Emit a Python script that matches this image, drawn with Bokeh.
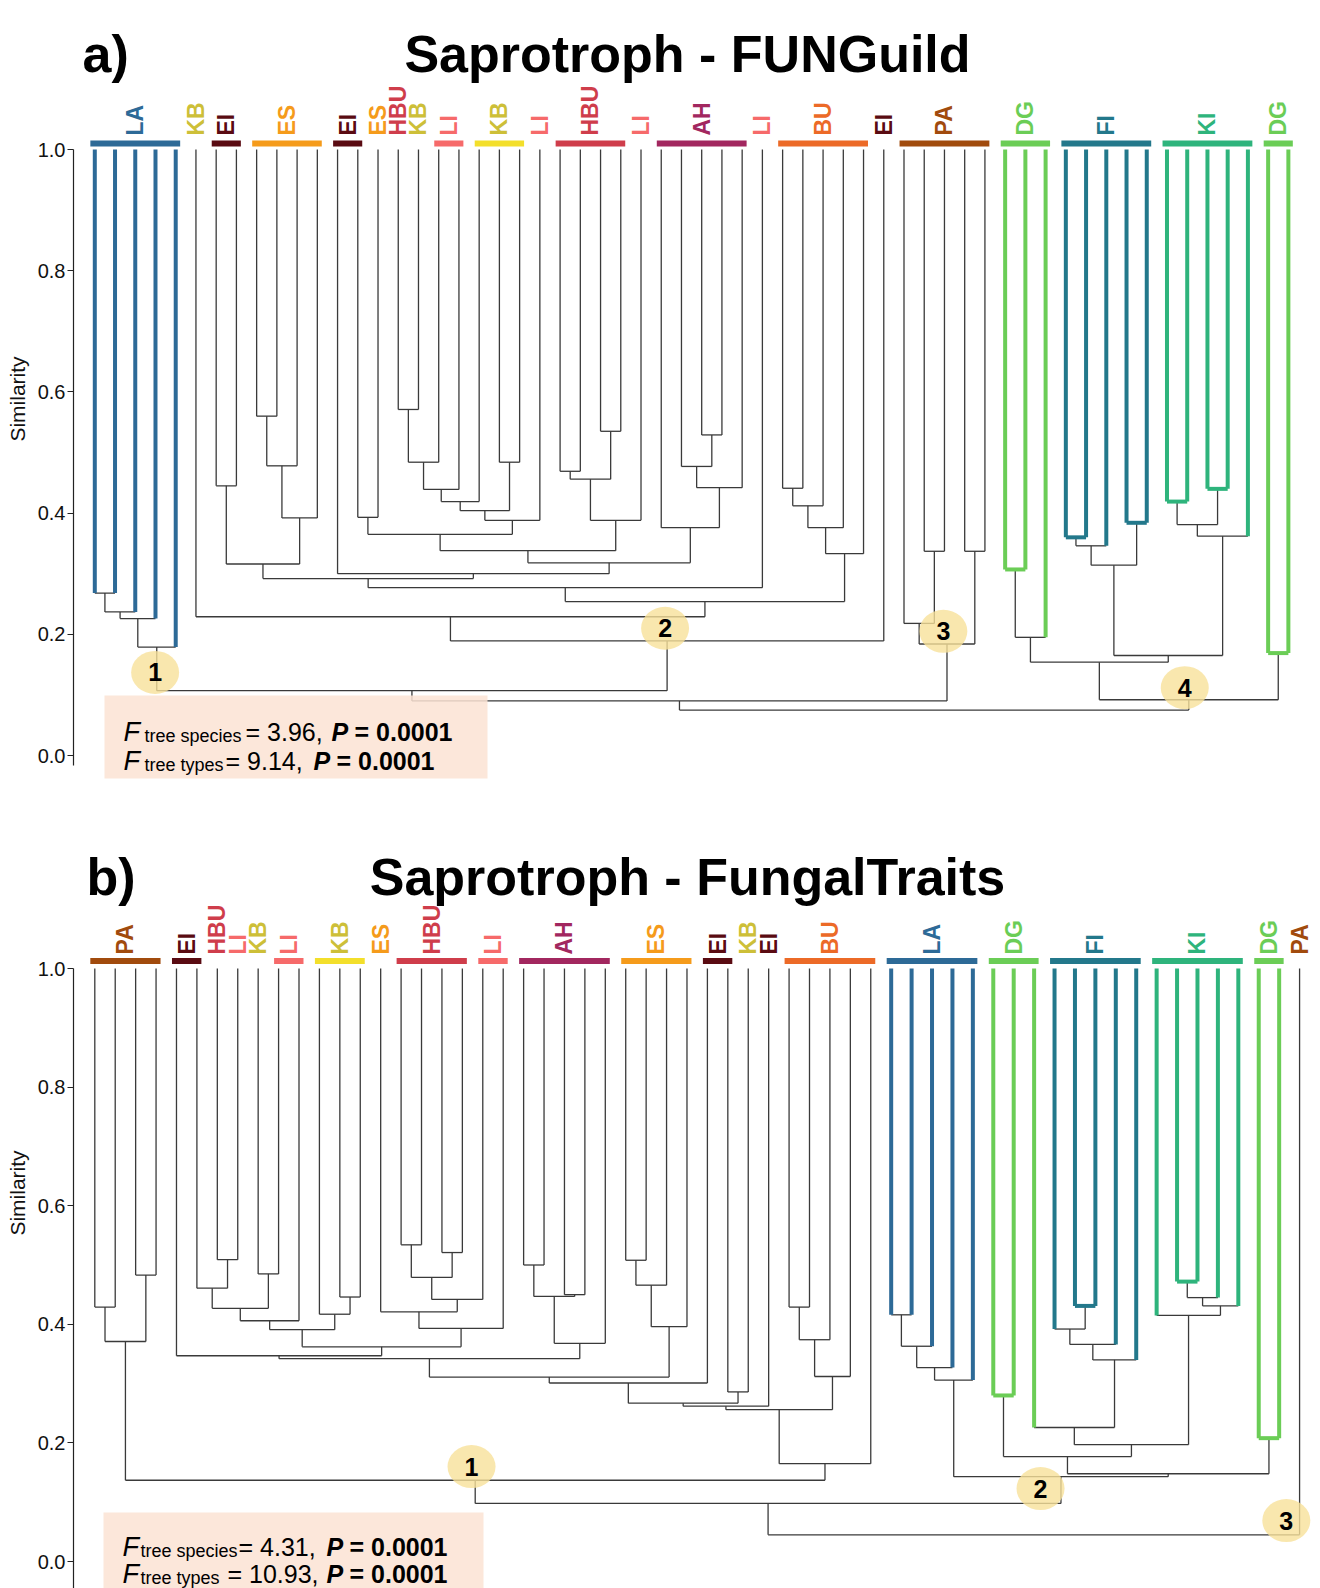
import math
from bokeh.plotting import figure
from bokeh.layouts import column
from bokeh.models import Range1d, ColumnDataSource, FixedTicker, NumeralTickFormatter
from bokeh.embed import file_html
from bokeh.resources import INLINE
from bokeh.core.properties import value

FONT = "Liberation Sans"
DARK = "#3a3a3a"

TYPE_COLORS = {
    "LA": "#2d6a97", "KB": "#f3df2b", "EI": "#5a0b12", "ES": "#f59b1b",
    "HBU": "#cf3d4b", "LI": "#f66a6a", "AH": "#a2275f", "BU": "#ec6a27",
    "PA": "#a14b0d", "DG": "#6bcd56", "FI": "#23788b", "KI": "#2eb47c",
}
TEXT_COLORS = dict(TYPE_COLORS, KB="#cdbf38")
COLORED_STEMS = {"LA", "DG", "FI", "KI"}
COLORED_JOINS = {"DG", "FI", "KI"}

# ---------------- panel a: Saprotroph - FUNGuild ----------------
leaf_types_a = (["LA"] * 5 + ["KB"] + ["EI"] * 2 + ["ES"] * 4 + ["EI"] * 2
                + ["ES", "HBU", "KB"] + ["LI"] * 2 + ["KB"] * 3 + ["LI"]
                + ["HBU"] * 4 + ["LI"] + ["AH"] * 5 + ["LI"] + ["BU"] * 5
                + ["EI"] + ["PA"] * 5 + ["DG"] * 3 + ["FI"] * 5 + ["KI"] * 5
                + ["DG"] * 2)

# clades: (left, right, similarity at merge); ints are leaf indices
la_a = ((((0, 1, 0.268), 2, 0.237), 3, 0.226), 4, 0.179)
eies_a = ((6, 7, 0.445), (((8, 9, 0.560), 10, 0.478), 11, 0.392), 0.316)
w1_a = (((((15, 16, 0.571), 17, 0.484), 18, 0.439)), 19, 0.419)
z2_a = ((w1_a, (20, 21, 0.484), 0.404), 22, 0.388)
z_a = ((13, 14, 0.393), z2_a, 0.365)
hbu_a = (((23, 24, 0.469), (25, 26, 0.535), 0.456), 27, 0.388)
ah_a = (28, ((29, (30, 31, 0.529), 0.477), 32, 0.442), 0.376)
y_a = ((z_a, hbu_a, 0.338), ah_a, 0.318)
r1_a = ((eies_a, (12, y_a, 0.300), 0.292), 33, 0.277)
bu_a = ((((34, 35, 0.441), 36, 0.412), 37, 0.376), 38, 0.333)
c2_a = ((5, (r1_a, bu_a, 0.254), 0.229), 39, 0.189)
c3_a = ((40, (41, 42, 0.337), 0.218), (43, 44, 0.337), 0.184)
dg_a = ((45, 46, 0.307), 47, 0.195)
fi_a = (((48, 49, 0.360), 50, 0.346), (51, 52, 0.384), 0.314)
ki_a = (((53, 54, 0.419), (55, 56, 0.440), 0.381), 57, 0.362)
c4_a = ((dg_a, (fi_a, ki_a, 0.165), 0.154), (58, 59, 0.169), 0.092)
tree_a = (((la_a, c2_a, 0.107), c3_a, 0.090), c4_a, 0.075)

annots_a = [(0, 4, "1", -0.08, -0.042), (5, 39, "2", -0.10, 0.021),
            (40, 44, "3", -0.18, 0.021), (45, 59, "4", -0.20, 0.020)]
stats_a = [("tree species", "= 3.96,", "0.0001"), ("tree types", "= 9.14,", "0.0001")]

# ---------------- panel b: Saprotroph - FungalTraits ----------------
leaf_types_b = (["PA"] * 4 + ["EI"] * 2 + ["HBU", "LI", "KB"] + ["LI"] * 2
                + ["KB"] * 3 + ["ES"] + ["HBU"] * 4 + ["LI"] * 2 + ["AH"] * 5
                + ["ES"] * 4 + ["EI"] * 2 + ["KB", "EI"] + ["BU"] * 5
                + ["LA"] * 5 + ["DG"] * 3 + ["FI"] * 5 + ["KI"] * 5
                + ["DG"] * 2 + ["PA"])

pa_b = ((0, 1, 0.429), (2, 3, 0.483), 0.371)
a5_b = (((5, (6, 7, 0.509), 0.461), (8, 9, 0.485), 0.427), 10, 0.406)
a6_b = (a5_b, (11, (12, 13, 0.446), 0.417), 0.391)
hbu_b = (((15, 16, 0.534), (17, 18, 0.521), 0.479), 19, 0.442)
b2_b = ((14, hbu_b, 0.421), 20, 0.393)
a8_b = (4, (a6_b, b2_b, 0.362), 0.347)
ah_b = (((21, 22, 0.500), (23, 24, 0.450), 0.447), 25, 0.368)
es_b = (((26, 27, 0.508), 28, 0.466), 29, 0.396)
a11_b = (((a8_b, ah_b, 0.342), es_b, 0.311), 30, 0.301)
a13_b = ((a11_b, (31, 32, 0.286), 0.267), 33, 0.262)
bu_b = (((34, 35, 0.429), 36, 0.374), 37, 0.312)
c1_b = (pa_b, ((a13_b, bu_b, 0.256), 38, 0.165), 0.137)
la_b = ((((39, 40, 0.416), 41, 0.363), 42, 0.327), 43, 0.306)
fi_b = (((47, (48, 49, 0.431), 0.392), 50, 0.366), 51, 0.340)
ki_b = (52, (((53, 54, 0.472), 55, 0.445), 56, 0.431), 0.415)
d3_b = ((44, 45, 0.280), ((46, fi_b, 0.226), ki_b, 0.197), 0.177)
c2_b = (la_b, (d3_b, (57, 58, 0.208), 0.148), 0.143)
tree_b = ((c1_b, c2_b, 0.098), 59, 0.045)

annots_b = [(0, 38, "1", -0.18, 0.023), (39, 58, "2", -1.0, -0.020),
            (59, 59, "3", -0.65, 0.024)]
stats_b = [("tree species", "= 4.31,", "0.0001"), ("tree types", "= 10.93,", "0.0001")]

# ---------------- page geometry (reference pixel layout) ----------------
PAGE_W = 1320
FRAME_LEFT = 73
GEO_A = dict(top=0, height=797, y1=149.0, dy=606.0, leaf0=94.3, dx=20.23,
             bar=143, lab=135, title_base=53, letter_left=82,
             box=(104, 487, 695, 778),
             lines=[(731, [123, 144, 245, 331, 354]), (760, [123, 144, 225, 313, 336])],
             axis_bottom=-0.017)
GEO_B = dict(top=797, height=791, y1=968.0, dy=593.0, leaf0=94.3, dx=20.42,
             bar=960.5, lab=954, title_base=876, letter_left=86,
             box=(103, 483, 1512, 1600),
             lines=[(1546, [122, 140, 238, 326, 349]), (1573, [122, 140, 227, 326, 349])],
             axis_bottom=-0.05)


def layout_tree(tree, types):
    segs = []
    nodes = {}

    def rec(n):
        if isinstance(n, int):
            return float(n), 1.0, n, n, True
        l, r, h = n
        xl, hl, l0, l1, leafl = rec(l)
        xr, hr, r0, r1, leafr = rec(r)
        for xc, hc, c0, isleaf in ((xl, hl, l0, leafl), (xr, hr, r0, leafr)):
            t = types[c0]
            if isleaf and t in COLORED_STEMS:
                segs.append((xc, hc, xc, h, TYPE_COLORS[t], 4.0, 1))
            else:
                segs.append((xc, hc, xc, h, DARK, 1.3, 0))
            if isleaf:
                nodes[(c0, c0)] = (xc, h)
        t = types[l0]
        if leafl and leafr and t in COLORED_JOINS and types[r0] == t:
            segs.append((xl, h, xr, h, TYPE_COLORS[t], 4.0, 1))
        else:
            segs.append((xl, h, xr, h, DARK, 1.3, 0))
        x = (xl + xr) / 2.0
        nodes[(l0, r1)] = (x, h)
        return x, h, l0, r1, False

    rec(tree)
    segs.sort(key=lambda s: s[6])
    return segs, nodes


def runs(types):
    out, s = [], 0
    for i in range(1, len(types) + 1):
        if i == len(types) or types[i] != types[s]:
            out.append((types[s], s, i - 1))
            s = i
    return out


def make_panel(letter, title, types, tree, annots, stats, g):
    X = lambda px: (px - g["leaf0"]) / g["dx"]
    Y = lambda py: 1.0 - (py - g["y1"]) / g["dy"]
    top, h = g["top"], g["height"]
    p = figure(width=PAGE_W, height=h,
               x_range=Range1d(X(FRAME_LEFT), X(PAGE_W)), y_range=Range1d(Y(top + h), Y(top)),
               output_backend="svg", toolbar_location=None, x_axis_location=None,
               min_border_left=FRAME_LEFT, min_border_right=0, min_border_top=0,
               min_border_bottom=0, outline_line_color=None, background_fill_color="white")
    p.xgrid.visible = False
    p.ygrid.visible = False
    ax = p.yaxis[0]
    ax.ticker = FixedTicker(ticks=[0.0, 0.2, 0.4, 0.6, 0.8, 1.0])
    ax.formatter = NumeralTickFormatter(format="0.0")
    ax.bounds = (g["axis_bottom"], 1.0)
    ax.major_label_text_font = FONT
    ax.major_label_text_font_size = "20px"
    ax.major_label_text_color = "#111111"
    ax.major_label_standoff = 2
    ax.major_tick_out = 6
    ax.major_tick_in = 0
    ax.minor_tick_out = 0
    ax.minor_tick_in = 0
    ax.axis_line_color = "#222222"
    ax.major_tick_line_color = "#222222"
    ax.axis_line_width = 1.2
    ax.axis_label = "Similarity"
    ax.axis_label_text_font = FONT
    ax.axis_label_text_font_size = "21px"
    ax.axis_label_text_font_style = "normal"
    ax.axis_label_text_color = "#111111"
    ax.axis_label_standoff = 6

    segs, nodes = layout_tree(tree, types)
    src = ColumnDataSource(dict(x0=[s[0] for s in segs], y0=[s[1] for s in segs],
                                x1=[s[2] for s in segs], y1=[s[3] for s in segs],
                                c=[s[4] for s in segs], w=[s[5] for s in segs]))
    p.segment("x0", "y0", "x1", "y1", line_color="c", line_width="w", source=src)

    # group bars and labels
    bx0, bx1, bc, lx, lt, lc = [], [], [], [], [], []
    for t, s, e in runs(types):
        if e > s:
            bx0.append(s - 0.22)
            bx1.append(e + 0.22)
            bc.append(TYPE_COLORS[t])
        lx.append((s + e) / 2.0)
        lt.append(t)
        lc.append(TEXT_COLORS[t])
    yb = Y(g["bar"])
    p.segment(x0=bx0, y0=[yb] * len(bx0), x1=bx1, y1=[yb] * len(bx0),
              line_color=bc, line_width=6)
    p.text(x=lx, y=[Y(g["lab"])] * len(lx), text=lt, angle=math.pi / 2,
           text_align="left", text_baseline="middle", text_color=lc,
           text_font=value(FONT), text_font_style="bold", text_font_size="23px")

    # titles
    p.text(x=[X(g["letter_left"])], y=[Y(g["title_base"])], text=[letter],
           text_align="left", text_baseline="alphabetic", text_color="black",
           text_font=value(FONT), text_font_style="bold", text_font_size="52px")
    p.text(x=[X(687)], y=[Y(g["title_base"])], text=[title],
           text_align="center", text_baseline="alphabetic", text_color="black",
           text_font=value(FONT), text_font_style="bold", text_font_size="52px")

    # statistics box
    l, r, t_, b_ = g["box"]
    p.quad(left=[X(l)], right=[X(r)], top=[Y(t_)], bottom=[Y(b_)],
           fill_color="#fbe3d3", fill_alpha=0.85, line_color=None)
    for (base, xs), (sub, eq, pv) in zip(g["lines"], stats):
        yb0 = Y(base)
        ysub = Y(base + 4)
        p.text(x=[X(xs[0])], y=[yb0], text=["F"], text_font=value(FONT),
               text_font_style="italic", text_font_size="27px", text_color="black",
               text_baseline="alphabetic")
        p.text(x=[X(xs[1])], y=[ysub], text=[sub], text_font=value(FONT),
               text_font_size="18px", text_color="black", text_baseline="alphabetic")
        p.text(x=[X(xs[2])], y=[yb0], text=[eq], text_font=value(FONT),
               text_font_size="25px", text_color="black", text_baseline="alphabetic")
        p.text(x=[X(xs[3])], y=[yb0], text=["P"], text_font=value(FONT),
               text_font_style="bold italic", text_font_size="25px", text_color="black",
               text_baseline="alphabetic")
        p.text(x=[X(xs[4])], y=[yb0], text=["= " + pv], text_font=value(FONT),
               text_font_style="bold", text_font_size="25px", text_color="black",
               text_baseline="alphabetic")

    # numbered cluster markers
    ax_, ay_, at_ = [], [], []
    for s, e, lab, ddx, ddy in annots:
        nx, nh = nodes[(s, e)]
        ax_.append(nx + ddx)
        ay_.append(nh + ddy)
        at_.append(lab)
    p.ellipse(x=ax_, y=ay_, width=48, height=43, width_units="screen",
              height_units="screen", fill_color="#f8e19a", fill_alpha=0.8, line_color=None)
    p.text(x=ax_, y=ay_, text=at_, text_align="center", text_baseline="middle",
           text_font=value(FONT), text_font_style="bold", text_font_size="25px",
           text_color="black")
    return p


pa = make_panel("a)", "Saprotroph - FUNGuild", leaf_types_a, tree_a, annots_a, stats_a, GEO_A)
pb = make_panel("b)", "Saprotroph - FungalTraits", leaf_types_b, tree_b, annots_b, stats_b, GEO_B)
layout = column(pa, pb, spacing=0)
open("out.html", "w").write(file_html(layout, INLINE))
